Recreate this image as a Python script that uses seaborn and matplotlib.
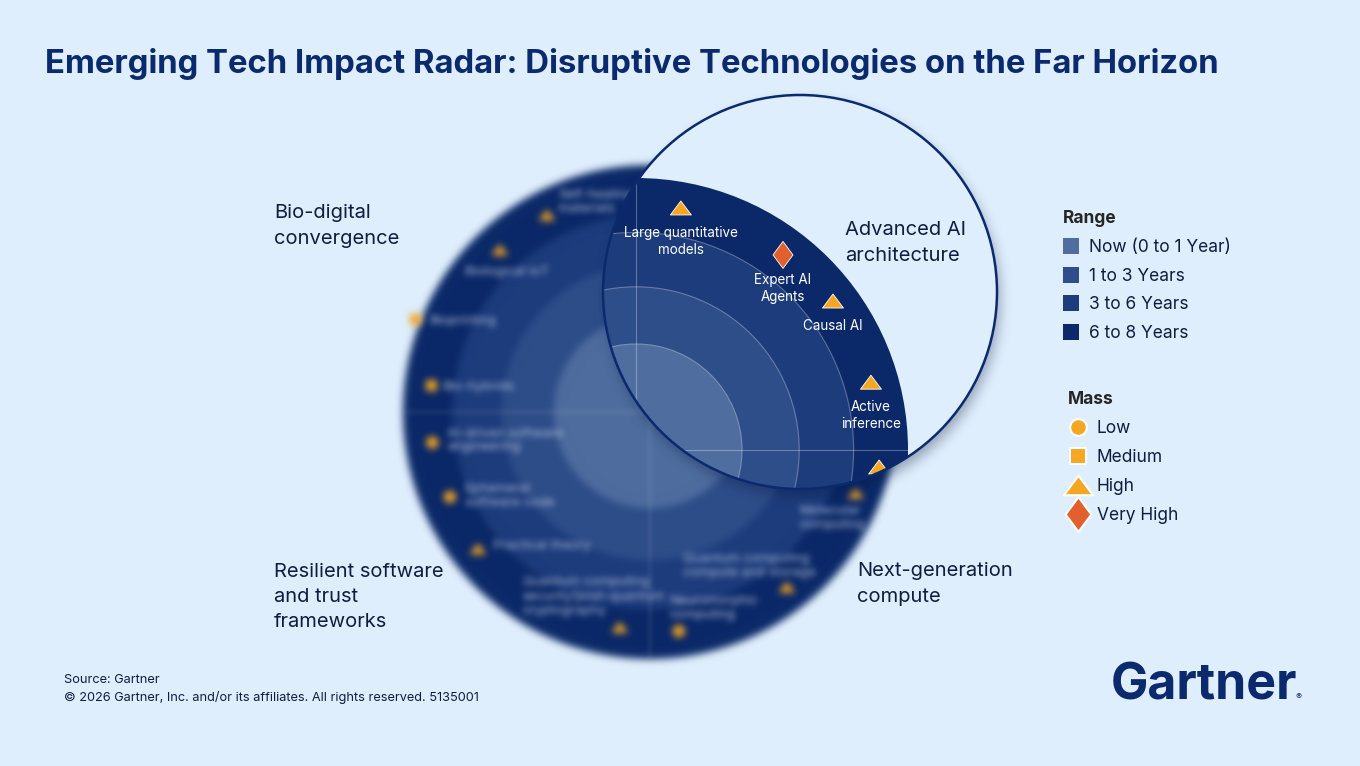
import numpy as np
import pandas as pd
import matplotlib.pyplot as plt
import seaborn as sns
from matplotlib.patches import Circle
from matplotlib.lines import Line2D
from matplotlib.markers import MarkerStyle
from matplotlib.path import Path

# range bands, inner to outer
ranges = ["Now (0 to 1 Year)", "1 to 3 Years", "3 to 6 Years", "6 to 8 Years"]
range_colors = ["#4f6d9f", "#2e4e8a", "#1d3c7c", "#0b2968"]

mass_levels = ["Low", "Medium", "High", "Very High"]
mass_colors = {"Low": "#f5a623", "Medium": "#f5a623", "High": "#f5a623", "Very High": "#e1602d"}

quadrants = ["Advanced AI\narchitecture", "Bio-digital\nconvergence",
             "Resilient software\nand trust\nframeworks", "Next-generation\ncompute"]

# technologies seen through the lens (advanced AI quadrant)
lens_tech = ["Large quantitative\nmodels", "Expert AI\nAgents", "Causal AI", "Active\ninference", ""]
lens_angle = [79.5, 53.0, 37.1, 16.1, -4.0]
lens_dist = [0.905, 0.898, 0.908, 0.899, 0.896]
lens_mass = ["High", "Very High", "High", "High", "High"]

# technologies on the blurred radar behind the lens
bg_tech = ["Self-healing\nmaterials", "Biological IoT", "Bioprinting", "Bio-hybrids",
           "AI-driven software\nengineering", "Ephemeral\nsoftware code", "Practical theory",
           "Quantum computing\nsecurity/post-quantum\ncryptography", "Neuromorphic\ncomputing",
           "Quantum computing\ncompute and storage", "Molecular\ncomputing"]
bg_angle = [117.6, 132.8, 158.4, 173.0, 188.0, 203.0, 218.5, 262.0, 277.5, 308.0, 338.5]
bg_dist = [0.90, 0.895, 1.02, 0.89, 0.89, 0.88, 0.89, 0.88, 0.895, 0.90, 0.895]
bg_mass = ["High", "High", "Medium", "Medium", "Low", "Low", "High", "High", "Low", "High", "High"]

# layout (pixel coordinates, y down)
W, H = 1360, 766
BG = "#dfeefc"
NAVY = "#0b2a6e"
TXT = "#111d3f"
RADAR_C, RADAR_R = (650, 412), 247
ZOOM_C, ZOOM_R = (636, 450), 272
LENS_C, LENS_R = (800, 292), 197
ring_frac = [0.39, 0.60, 0.80, 1.0]
bg_label_pos = [(11, -13, "left"), (7, 22, "center"), (14, 2, "left"), (11, 2, "left"),
                (15, -2, "left"), (15, -1, "left"), (15, -3, "left"), (-97, -31, "left"),
                (-9, -23, "left"), (-104, -21, "left"), (-56, 25, "left")]


def blur(sigma):
    pad = int(3 * sigma)
    k = np.arange(-pad, pad + 1)
    w = np.exp(-0.5 * (k / sigma) ** 2)
    w /= w.sum()

    def f(im, dpi):
        im = np.pad(im, [(pad, pad), (pad, pad), (0, 0)])
        a = im[..., 3:4]
        pm = np.concatenate([im[..., :3] * a, a], axis=2)
        for axis in (0, 1):
            pm = sum(wk * np.roll(pm, kk, axis=axis) for kk, wk in zip(k, w))
        alpha = pm[..., 3:4]
        rgb = pm[..., :3] / np.maximum(alpha, 1e-6)
        out = np.clip(np.concatenate([rgb, alpha], axis=2), 0, 1)
        return out, -pad, -pad
    return f


def polar_xy(center, radius, angle, dist):
    a = np.deg2rad(np.asarray(angle, dtype=float))
    d = np.asarray(dist, dtype=float)
    return center[0] + radius * d * np.cos(a), center[1] - radius * d * np.sin(a)


def closed(verts):
    return MarkerStyle(Path(list(verts) + [verts[0]], closed=True))


tri = closed([(-1, -0.667), (1, -0.667), (0, 0.667)])
dia = closed([(0, 1), (0.74, 0), (0, -1), (-0.74, 0)])
marker_map = {"Low": "o", "Medium": "s", "High": tri, "Very High": dia}

sns.set_style("white")
plt.rcParams["font.family"] = ["Inter", "DejaVu Sans"]

fig = plt.figure(figsize=(13.6, 7.66), dpi=100, facecolor=BG)
ax = fig.add_axes([0, 0, 1, 1])
ax.set_facecolor(BG)

# ---- blurred radar in the background
for frac, col in zip(ring_frac[::-1], range_colors[::-1]):
    c = Circle(RADAR_C, RADAR_R * frac, facecolor=col, edgecolor="none", zorder=1)
    c.set_agg_filter(blur(3.8))
    ax.add_patch(c)
for xs, ys in [([RADAR_C[0] - RADAR_R, RADAR_C[0] + RADAR_R], [RADAR_C[1]] * 2),
               ([RADAR_C[0]] * 2, [RADAR_C[1] - RADAR_R, RADAR_C[1] + RADAR_R])]:
    ln, = ax.plot(xs, ys, color="white", alpha=0.18, lw=1.2, zorder=2)
    ln.set_agg_filter(blur(2.5))

bg_df = pd.DataFrame({"tech": bg_tech, "mass": bg_mass})
bg_df["x"], bg_df["y"] = polar_xy(RADAR_C, RADAR_R, bg_angle, bg_dist)
sns.scatterplot(data=bg_df, x="x", y="y", hue="mass", style="mass", size="mass",
                palette=mass_colors, markers=marker_map,
                sizes={"Low": 80, "Medium": 64, "High": 150, "Very High": 300},
                edgecolor="none", legend=False, ax=ax, zorder=3)
ax.collections[-1].set_agg_filter(blur(2.6))
for (_, r), (dx, dy, ha) in zip(bg_df.iterrows(), bg_label_pos):
    t = ax.text(r.x + dx, r.y + dy, r.tech, ha=ha, va="center", fontsize=9.5,
                color="#cdd7ec", alpha=0.85, linespacing=1.2, zorder=3)
    t.set_agg_filter(blur(3.2))

# ---- lens
shadow = Circle((LENS_C[0] + 3, LENS_C[1] + 7), LENS_R, facecolor="#06163c",
                alpha=0.35, edgecolor="none", zorder=5)
shadow.set_agg_filter(blur(6))
ax.add_patch(shadow)
lens = Circle(LENS_C, LENS_R, facecolor=BG, edgecolor="none", zorder=6)
ax.add_patch(lens)

for frac, col in zip(ring_frac[::-1], range_colors[::-1]):
    c = Circle(ZOOM_C, ZOOM_R * frac, facecolor=col, edgecolor="none", zorder=7)
    c.set_clip_path(lens)
    ax.add_patch(c)
for frac in ring_frac[:-1]:
    c = Circle(ZOOM_C, ZOOM_R * frac, fill=False, edgecolor="white", alpha=0.3,
               lw=0.8, zorder=7)
    c.set_clip_path(lens)
    ax.add_patch(c)
for xs, ys in [([ZOOM_C[0] - ZOOM_R, ZOOM_C[0] + ZOOM_R], [ZOOM_C[1]] * 2),
               ([ZOOM_C[0]] * 2, [ZOOM_C[1] - ZOOM_R, ZOOM_C[1] + ZOOM_R])]:
    ln, = ax.plot(xs, ys, color="white", alpha=0.3, lw=0.8, zorder=7)
    ln.set_clip_path(lens)

lens_df = pd.DataFrame({"tech": lens_tech, "mass": lens_mass})
lens_df["x"], lens_df["y"] = polar_xy(ZOOM_C, ZOOM_R, lens_angle, lens_dist)
sns.scatterplot(data=lens_df, x="x", y="y", hue="mass", style="mass", size="mass",
                palette=mass_colors, markers=marker_map,
                sizes={"Low": 80, "Medium": 64, "High": 228, "Very High": 378},
                edgecolor="white", linewidth=0.6, legend=False, ax=ax, zorder=8)
ax.collections[-1].set_clip_path(lens)
for _, r in lens_df.iterrows():
    t = ax.annotate(r.tech, (r.x, r.y), xytext=(0, -13), textcoords="offset points",
                    ha="center", va="top", fontsize=9.7, color="white",
                    linespacing=1.27, zorder=9)
    t.set_clip_path(lens)

ax.add_patch(Circle(LENS_C, LENS_R, fill=False, edgecolor=NAVY, lw=1.8, zorder=10))

# ---- quadrant names
quad_pos = [(845, 243), (274, 226), (274, 597), (857, 584)]
for name, (x, y) in zip(quadrants, quad_pos):
    ax.text(x, y, name, ha="left", va="center", fontsize=14.5, color=TXT,
            linespacing=1.52, zorder=11)

# ---- legends
rng_handles = [Line2D([], [], marker="s", ls="none", markersize=11,
                      markerfacecolor=c, markeredgewidth=0) for c in range_colors]
leg1 = ax.legend(rng_handles, ranges, title="Range", loc="upper left",
                 bbox_to_anchor=(1063 / W, 1 - 210 / H), frameon=False, fontsize=12.5,
                 title_fontproperties={"weight": "bold", "size": 12.5},
                 alignment="left", labelspacing=0.68, handlelength=0.9,
                 handletextpad=0.6, borderpad=0, borderaxespad=0, labelcolor=TXT)
ax.add_artist(leg1)

mass_handles = [
    Line2D([], [], marker="o", ls="none", markersize=12, markerfacecolor=mass_colors["Low"],
           markeredgecolor="white", markeredgewidth=1.5),
    Line2D([], [], marker="s", ls="none", markersize=11, markerfacecolor=mass_colors["Medium"],
           markeredgecolor="white", markeredgewidth=1.5),
    Line2D([], [], marker=tri, ls="none", markersize=21, markerfacecolor=mass_colors["High"],
           markeredgecolor="white", markeredgewidth=1.5),
    Line2D([], [], marker=dia, ls="none", markersize=25, markerfacecolor=mass_colors["Very High"],
           markeredgecolor="white", markeredgewidth=1.5),
]
leg2 = ax.legend(mass_handles, mass_levels, title="Mass", loc="upper left",
                 bbox_to_anchor=(1068 / W, 1 - 391 / H), frameon=False, fontsize=12.5,
                 title_fontproperties={"weight": "bold", "size": 12.5},
                 alignment="left", labelspacing=0.69, handlelength=1.15,
                 handletextpad=0.5, borderpad=0, borderaxespad=0, labelcolor=TXT)

# ---- title, footer, logo
ax.text(45, 64, "Emerging Tech Impact Radar: Disruptive Technologies on the Far Horizon",
        ha="left", va="center", fontsize=23.7, fontweight="bold", color=NAVY)
ax.text(64, 680, "Source: Gartner", ha="left", va="center", fontsize=9.2, color=TXT)
ax.text(64, 698, "© 2026 Gartner, Inc. and/or its affiliates. All rights reserved. 5135001",
        ha="left", va="center", fontsize=9.2, color=TXT)
ax.text(1111, 700, "Gartner", ha="left", va="baseline", fontsize=36,
        fontweight="bold", color=NAVY)
ax.text(1295, 699, "®", ha="left", va="baseline", fontsize=6.5, color=NAVY)

ax.set_xlim(0, W)
ax.set_ylim(H, 0)
ax.axis("off")
fig.savefig("out.png", dpi=100, facecolor=BG)
